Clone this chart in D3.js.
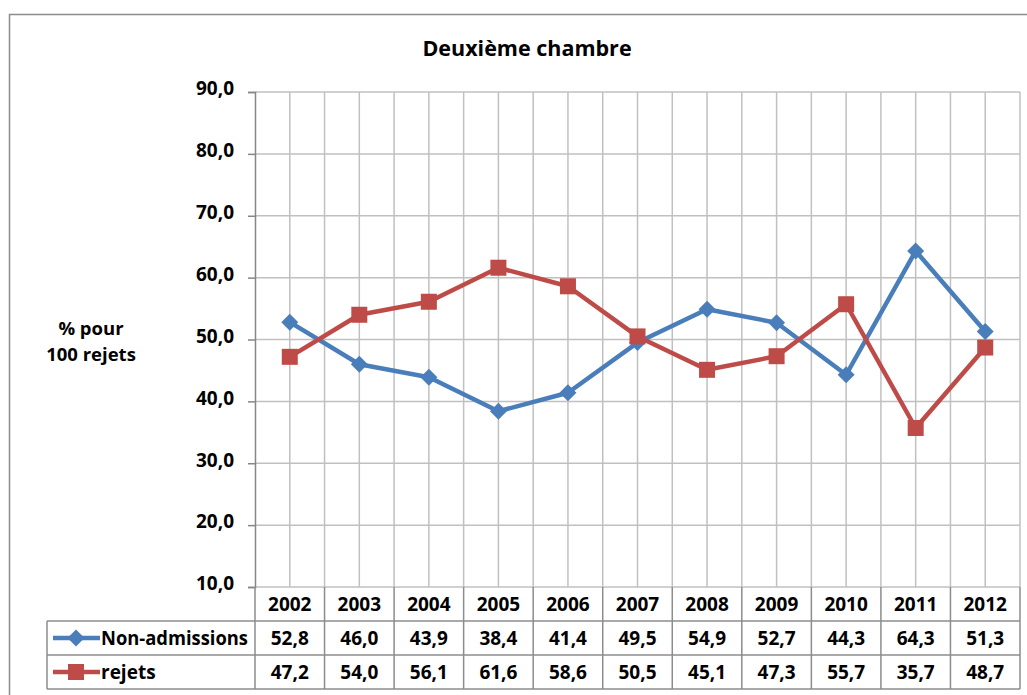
<!DOCTYPE html>
<html><head><meta charset="utf-8">
<script src="https://cdn.jsdelivr.net/npm/d3@7/dist/d3.min.js"></script>
<style>body{margin:0;background:#fff}svg{display:block}text{font-family:"Open Sans",sans-serif;font-weight:bold;fill:#000}</style>
</head><body><svg id="c" width="1027" height="695"></svg>
<script>
const years = ["2002","2003","2004","2005","2006","2007","2008","2009","2010","2011","2012"];
const nonAdmissions = [52.8,46.0,43.9,38.4,41.4,49.5,54.9,52.7,44.3,64.3,51.3];
const rejets = [47.2,54.0,56.1,61.6,58.6,50.5,45.1,47.3,55.7,35.7,48.7];
const yTicks = [10,20,30,40,50,60,70,80,90];
const seriesNames = ["Non-admissions","rejets"];
const colors = ["#4a7ebb","#be4b48"];

const svg = d3.select("#c");
const L=255, R=1020, T=92, B=587;
const rowH = [587,621,655,689];
const fmt = v => d3.format(".1f")(v).replace(".",",");
const FS = 19;

svg.append("rect").attr("x",9.5).attr("y",14.5).attr("width",1030).attr("height",700)
  .attr("fill","none").attr("stroke","#8c8c8c").attr("stroke-width",1.5);

svg.append("text").attr("x",527).attr("y",56).attr("text-anchor","middle").attr("font-size",21.5).text("Deuxième chambre");

const x = d3.scaleBand().domain(years).range([L,R]);
const y = d3.scaleLinear().domain([10,90]).range([B,T]);

const g = svg.append("g");
years.forEach((yr,i)=>{
  [x(yr), x(yr)+x.bandwidth()/2].forEach(px=>{
    if (Math.abs(px-L)<1) return;
    g.append("line").attr("x1",px).attr("x2",px).attr("y1",T).attr("y2",B).attr("stroke","#c0c0c0").attr("stroke-width",1.5);
  });
});
g.append("line").attr("x1",R).attr("x2",R).attr("y1",T).attr("y2",B).attr("stroke","#c0c0c0").attr("stroke-width",1.5);
yTicks.forEach(t=>{
  g.append("line").attr("x1",L).attr("x2",R).attr("y1",y(t)).attr("y2",y(t)).attr("stroke","#c0c0c0").attr("stroke-width",1.5);
});

const ya = svg.append("g").attr("transform",`translate(${L},0)`)
  .call(d3.axisLeft(y).tickValues(yTicks).tickSize(7).tickPadding(14).tickFormat(fmt));
ya.select(".domain").attr("stroke","#868686").attr("stroke-width",1.5);
ya.selectAll(".tick line").attr("stroke","#868686").attr("stroke-width",1.5);
ya.selectAll(".tick text").attr("font-size",FS).attr("font-family","Open Sans").attr("font-weight","bold").attr("fill","#000").attr("dy","0.15em");

svg.append("text").attr("x",91).attr("y",335).attr("text-anchor","middle").attr("font-size",18.5).text("% pour");
svg.append("text").attr("x",91).attr("y",361).attr("text-anchor","middle").attr("font-size",18.5).text("100 rejets");

const data = [nonAdmissions, rejets];
const line = d3.line().x((d,i)=>x(years[i])+x.bandwidth()/2).y(d=>y(d));
data.forEach((s,k)=>{
  svg.append("path").attr("d",line(s)).attr("fill","none").attr("stroke",colors[k]).attr("stroke-width",4.5).attr("stroke-linejoin","round");
});
function marker(sel,k,cx,cy){
  if(k===0){
    const s=12;
    sel.append("rect").attr("x",-s/2).attr("y",-s/2).attr("width",s).attr("height",s)
      .attr("transform",`translate(${cx},${cy}) rotate(45)`).attr("fill",colors[0]);
  } else {
    const s=16;
    sel.append("rect").attr("x",cx-s/2).attr("y",cy-s/2).attr("width",s).attr("height",s).attr("fill",colors[1]);
  }
}
data.forEach((s,k)=>{
  s.forEach((v,i)=>marker(svg,k,x(years[i])+x.bandwidth()/2,y(v)));
});

const tb = svg.append("g");
const tl = (x1,y1,x2,y2)=>tb.append("line").attr("x1",x1).attr("y1",y1).attr("x2",x2).attr("y2",y2).attr("stroke","#8c8c8c").attr("stroke-width",1.5);
rowH.slice(1).forEach(h=>tl(47,h,R,h));
tl(47,rowH[1],47,rowH[3]);
years.forEach(yr=>tl(x(yr),B,x(yr),rowH[3]));
tl(R,B,R,rowH[3]);
years.forEach(yr=>{
  tb.append("text").attr("x",x(yr)+x.bandwidth()/2).attr("y",rowH[0]+24).attr("text-anchor","middle").attr("font-size",FS).text(yr);
});
data.forEach((s,k)=>{
  const cy = rowH[k+1]+17;
  s.forEach((v,i)=>{
    tb.append("text").attr("x",x(years[i])+x.bandwidth()/2).attr("y",cy+7).attr("text-anchor","middle").attr("font-size",FS).text(fmt(v));
  });
  tb.append("line").attr("x1",53).attr("x2",100).attr("y1",cy).attr("y2",cy).attr("stroke",colors[k]).attr("stroke-width",4.5);
  marker(tb,k,76,cy);
  tb.append("text").attr("x",101).attr("y",cy+7).attr("font-size",FS).attr("textLength",k===0?147:null).attr("lengthAdjust","spacingAndGlyphs").text(seriesNames[k]);
});
</script></body></html>
